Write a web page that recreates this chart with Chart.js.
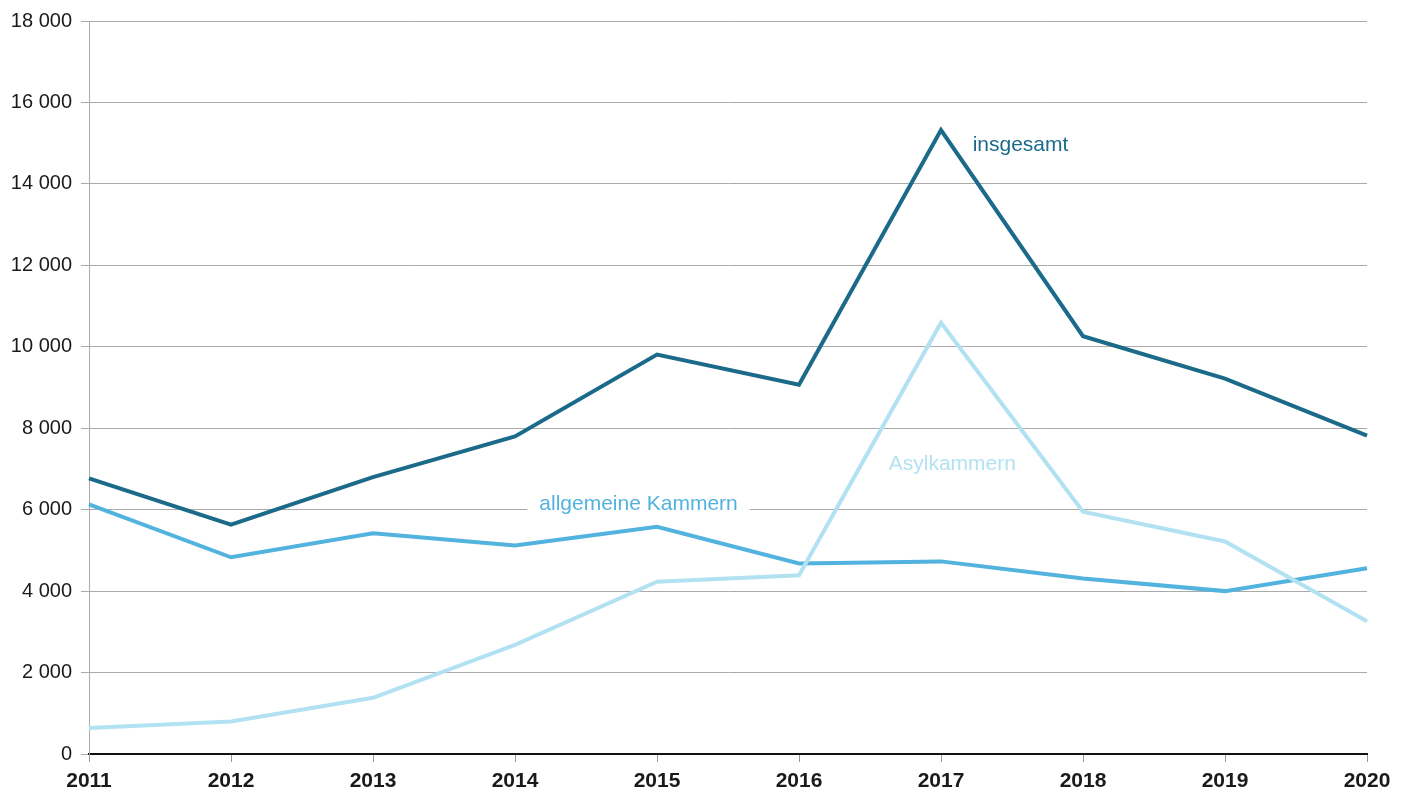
<!DOCTYPE html>
<html>
<head>
<meta charset="utf-8">
<script src="https://cdn.jsdelivr.net/npm/chart.js@4/dist/chart.umd.min.js"></script>
<style>
  html, body { margin: 0; padding: 0; background: #fff; }
  #wrap { width: 1408px; height: 791px; }
</style>
</head>
<body>
<div id="wrap"><canvas id="line_chart" width="1408" height="791"></canvas></div>
<script>
var years = ["2011", "2012", "2013", "2014", "2015", "2016", "2017", "2018", "2019", "2020"];
var insgesamt = [6770, 5630, 6800, 7800, 9810, 9070, 15320, 10260, 9220, 7820];
var allgemeine = [6130, 4830, 5420, 5120, 5580, 4680, 4730, 4310, 4000, 4560];
var asyl = [640, 800, 1380, 2680, 4230, 4390, 10590, 5950, 5220, 3260];
var yTicks = [0, 2000, 4000, 6000, 8000, 10000, 12000, 14000, 16000, 18000];

var cDark = '#1b6a8a', cMid = '#51b3de', cLight = '#b2e2f2';

// line labels placed in data space (category index, value)
var labelPlugin = {
    id: 'lineLabels',
    afterDatasetsDraw: function(chart) {
        var ctx = chart.ctx, xs = chart.scales.x, ys = chart.scales.y;
        var items = [
            {text: 'insgesamt', x: 6.56, y: 14950, color: cDark, bg: false},
            {text: 'allgemeine Kammern', x: 3.87, y: 6130, color: cMid, bg: true},
            {text: 'Asylkammern', x: 6.08, y: 7110, color: cLight, bg: false}
        ];
        ctx.save();
        ctx.font = '21px "Liberation Sans", Arial, sans-serif';
        ctx.textAlign = 'center';
        ctx.textBaseline = 'middle';
        items.forEach(function(it) {
            var px = xs.getPixelForValue(it.x), py = ys.getPixelForValue(it.y);
            if (it.bg) {
                var w = ctx.measureText(it.text).width;
                ctx.fillStyle = '#fff';
                ctx.fillRect(px - w / 2 - 12, py - 12, w + 24, 24);
            }
            ctx.fillStyle = it.color;
            ctx.fillText(it.text, px, py);
        });
        ctx.restore();
    }
};

var lineData = {
    labels: years,
    datasets: [
        {label: 'Asylkammern', data: asyl, borderColor: cLight, backgroundColor: cLight},
        {label: 'allgemeine Kammern', data: allgemeine, borderColor: cMid, backgroundColor: cMid},
        {label: 'insgesamt', data: insgesamt, borderColor: cDark, backgroundColor: cDark}
    ]
};

var lineOptions = {
    responsive: false,
    animation: false,
    layout: {padding: {top: 13, right: 41, left: 0, bottom: 0}},
    elements: {
        line: {borderWidth: 4, tension: 0, borderCapStyle: 'butt', borderJoinStyle: 'miter'},
        point: {radius: 0, hoverRadius: 0}
    },
    plugins: {legend: {display: false}, tooltip: {enabled: false}},
    scales: {
        x: {
            offset: false,
            afterFit: function(s) { s.height = 37; },
            grid: {display: true, drawOnChartArea: false, drawTicks: true, tickLength: 8, color: '#999'},
            border: {color: '#111', width: 2},
            ticks: {
                color: '#1a1a1a', padding: 7, maxRotation: 0,
                font: {family: '"Liberation Sans", Arial, sans-serif', size: 21, weight: 'bold'}
            }
        },
        y: {
            min: 0, max: 18000,
            afterFit: function(s) { s.width = 89; },
            afterBuildTicks: function(s) { s.ticks = yTicks.map(function(v) { return {value: v}; }); },
            grid: {color: '#aaa', lineWidth: 1, tickLength: 8, drawTicks: true},
            border: {color: '#aaa', width: 1},
            ticks: {
                color: '#1a1a1a', padding: 9,
                font: {family: '"Liberation Sans", Arial, sans-serif', size: 20},
                callback: function(v) { return String(v).replace(/\B(?=(\d{3})+(?!\d))/g, ' '); }
            }
        }
    }
};

var ctx = document.getElementById("line_chart").getContext("2d");
new Chart(ctx, {type: 'line', data: lineData, options: lineOptions, plugins: [labelPlugin]});
</script>
</body>
</html>
